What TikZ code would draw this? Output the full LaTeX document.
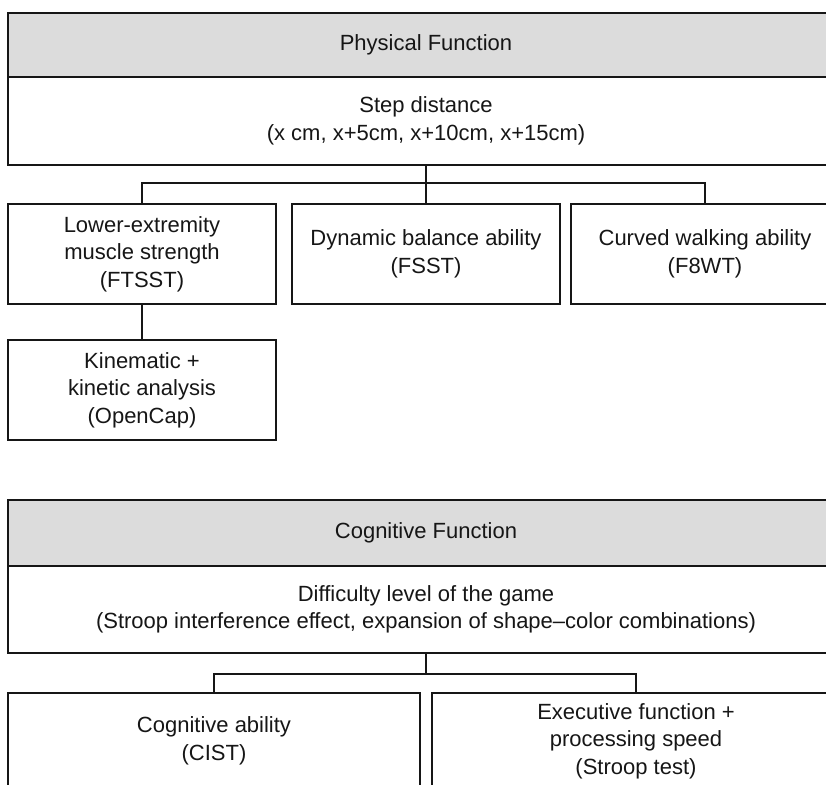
\documentclass[tikz,border=0pt]{standalone}
\usepackage{fontspec}
\setmainfont{Liberation Sans}
\usepackage{tikz}
\usetikzlibrary{
    positioning,
    calc
}
\definecolor{HeadGray}{RGB}{220,220,220}
\definecolor{InkBlack}{RGB}{22,22,22}

\begin{document}
\begin{tikzpicture}[
    x=1pt,
    y=-1pt,
    box/.style={draw=InkBlack, line width=1.5pt, text=InkBlack,
        align=center, inner sep=0pt, outer sep=0pt,
        font=\fontsize{22}{27.5}\selectfont},
    headbox/.style={box, fill=HeadGray, minimum width=836pt, minimum height=64pt},
    levelbox/.style={box, fill=white, minimum width=836pt, minimum height=88pt},
    testbox/.style={box, minimum width=268pt, minimum height=100pt},
    widebox/.style={box, minimum height=96pt},
    link/.style={draw=InkBlack, line width=1.5pt}
]

\useasboundingbox (0,0) rectangle (826,784);
\clip (0,0) rectangle (826,784);

% Physical function
\node[headbox, anchor=north west] (physhead) at (8,13)
    {Physical Function};
\node[levelbox, anchor=north] (physlevel) at (physhead.south)
    {Step distance\\(x cm, x+5cm, x+10cm, x+15cm)};

\node[testbox, anchor=north] (ftsst) at (142,204)
    {Lower-extremity\\muscle strength\\(FTSST)};
\node[testbox, anchor=north] (fsst) at (426,204)
    {Dynamic balance ability\\(FSST)};
\node[testbox, anchor=north] (f8wt) at (705,204)
    {Curved walking ability\\(F8WT)};
\node[testbox, below=36pt of ftsst] (opencap)
    {Kinematic +\\kinetic analysis\\(OpenCap)};

% Physical links
\draw[link] (physlevel.south) -- ++(0,18) coordinate (pjoin);
\draw[link] (ftsst.north) |- (pjoin) -| (f8wt.north);
\draw[link] (pjoin) -- (fsst.north);
\draw[link] (ftsst.south) -- (opencap.north);

% Cognitive function
\node[headbox, anchor=north west, minimum height=66pt] (coghead) at (8,500)
    {Cognitive Function};
\node[levelbox, anchor=north, minimum height=87pt] (coglevel) at (coghead.south)
    {Difficulty level of the game\\(Stroop interference effect, expansion of shape–color combinations)};

\node[widebox, anchor=north, minimum width=412pt] (cist) at (214,693)
    {Cognitive ability\\(CIST)};
\node[widebox, anchor=north, minimum width=408pt] (stroop) at (636,693)
    {Executive function +\\processing speed\\(Stroop test)};

% Cognitive links
\draw[link] (coglevel.south) -- ++(0,21) coordinate (cjoin);
\draw[link] (cist.north) |- (cjoin) -| (stroop.north);

\end{tikzpicture}
\end{document}
